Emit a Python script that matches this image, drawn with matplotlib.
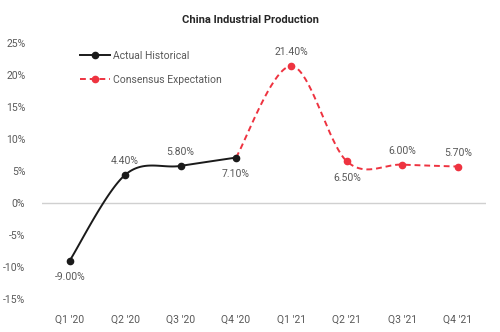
import numpy as np
import matplotlib
matplotlib.use("Agg")
import matplotlib.pyplot as plt
from matplotlib import font_manager

names = {f.name for f in font_manager.fontManager.ttflist}
fam = "Liberation Sans Narrow" if "Liberation Sans Narrow" in names else "Roboto"
plt.rcParams['font.family'] = [fam, 'DejaVu Sans']

categories = ["Q1 '20", "Q2 '20", "Q3 '20", "Q4 '20", "Q1 '21", "Q2 '21", "Q3 '21", "Q4 '21"]
actual = [-9.0, 4.4, 5.8, 7.1]
expected = [7.1, 21.4, 6.5, 6.0, 5.7]  # starts at Q4 '20
yticks = [-15, -10, -5, 0, 5, 10, 15, 20, 25]

def smooth(xs, ys, n=40):
    xs = np.asarray(xs, float); ys = np.asarray(ys, float)
    P = np.column_stack([xs, ys])
    out = [P[0]]
    for i in range(len(P) - 1):
        p0 = P[i - 1] if i > 0 else P[i]
        p1 = P[i]; p2 = P[i + 1]
        p3 = P[i + 2] if i + 2 < len(P) else P[i + 1]
        c1 = p1 + (p2 - p0) / 6.0
        c2 = p2 - (p3 - p1) / 6.0
        t = np.linspace(0, 1, n)[1:, None]
        seg = (1 - t) ** 3 * p1 + 3 * (1 - t) ** 2 * t * c1 + 3 * (1 - t) * t ** 2 * c2 + t ** 3 * p2
        out.extend(seg)
    out = np.array(out)
    return out[:, 0], out[:, 1]

fig = plt.figure(figsize=(5, 3.32), dpi=100)
ax = fig.add_axes([0.084, 0.0994, 0.887, 0.771])

xa = np.arange(len(actual))
xe = np.arange(len(actual) - 1, len(actual) - 1 + len(expected))

red = "#EE3340"
black = "#1a1a1a"
gray = "#595959"

ax.axhline(0, color="#d0d0d0", lw=1, zorder=1)

sx, sy = smooth(xe, expected)
ax.plot(sx, sy, color=red, lw=1.4, ls=(0, (3, 2)), zorder=2)
ax.plot(xe[1:], expected[1:], 'o', color=red, ms=4.5, zorder=3)
sx, sy = smooth(xa, actual)
ax.plot(sx, sy, color=black, lw=1.4, zorder=4)
ax.plot(xa, actual, 'o', color=black, ms=4.5, zorder=5)

# legend proxies
h1, = ax.plot([], [], color=black, lw=1.4, marker='o', ms=4.5)
h2, = ax.plot([], [], color=red, lw=1.4, ls=(0, (3, 2)), marker='o', ms=4.5)
leg = ax.legend([h1, h2], ["Actual Historical", "Consensus Expectation"], loc="upper left",
                bbox_to_anchor=(0.065, 1.005), frameon=False, fontsize=7.5, labelcolor=gray,
                handlelength=2.9, handletextpad=0.25, labelspacing=1.3)

# data labels
labels = [(0, -9.0, "-9.00%", "below"), (1, 4.4, "4.40%", "above"), (2, 5.8, "5.80%", "above"),
          (3, 7.1, "7.10%", "below"), (4, 21.4, "21.40%", "above"), (5, 6.5, "6.50%", "below"),
          (6, 6.0, "6.00%", "above"), (7, 5.7, "5.70%", "above")]
for x, y, s, pos in labels:
    off = 10 if pos == "above" else -12
    ax.annotate(s, (x, y), xytext=(0, off), textcoords="offset points",
                ha="center", va="center", fontsize=7.5, color=gray)

ax.set_xlim(-0.5, 7.5)
ax.set_ylim(-15, 25)
ax.set_xticks(range(len(categories)))
ax.set_xticklabels(categories)
ax.set_yticks(yticks)
ax.set_yticklabels([f"{v}%" for v in yticks])
ax.tick_params(length=0, labelsize=7.5, colors=gray)
ax.tick_params(axis='x', pad=11)
ax.tick_params(axis='y', pad=12)
for s in ax.spines.values():
    s.set_visible(False)

fig.text(0.5, 0.94, "China Industrial Production", ha="center", va="center",
         fontsize=8, fontweight="bold", color="#262626")

fig.savefig("out.png", dpi=100, facecolor="white")
